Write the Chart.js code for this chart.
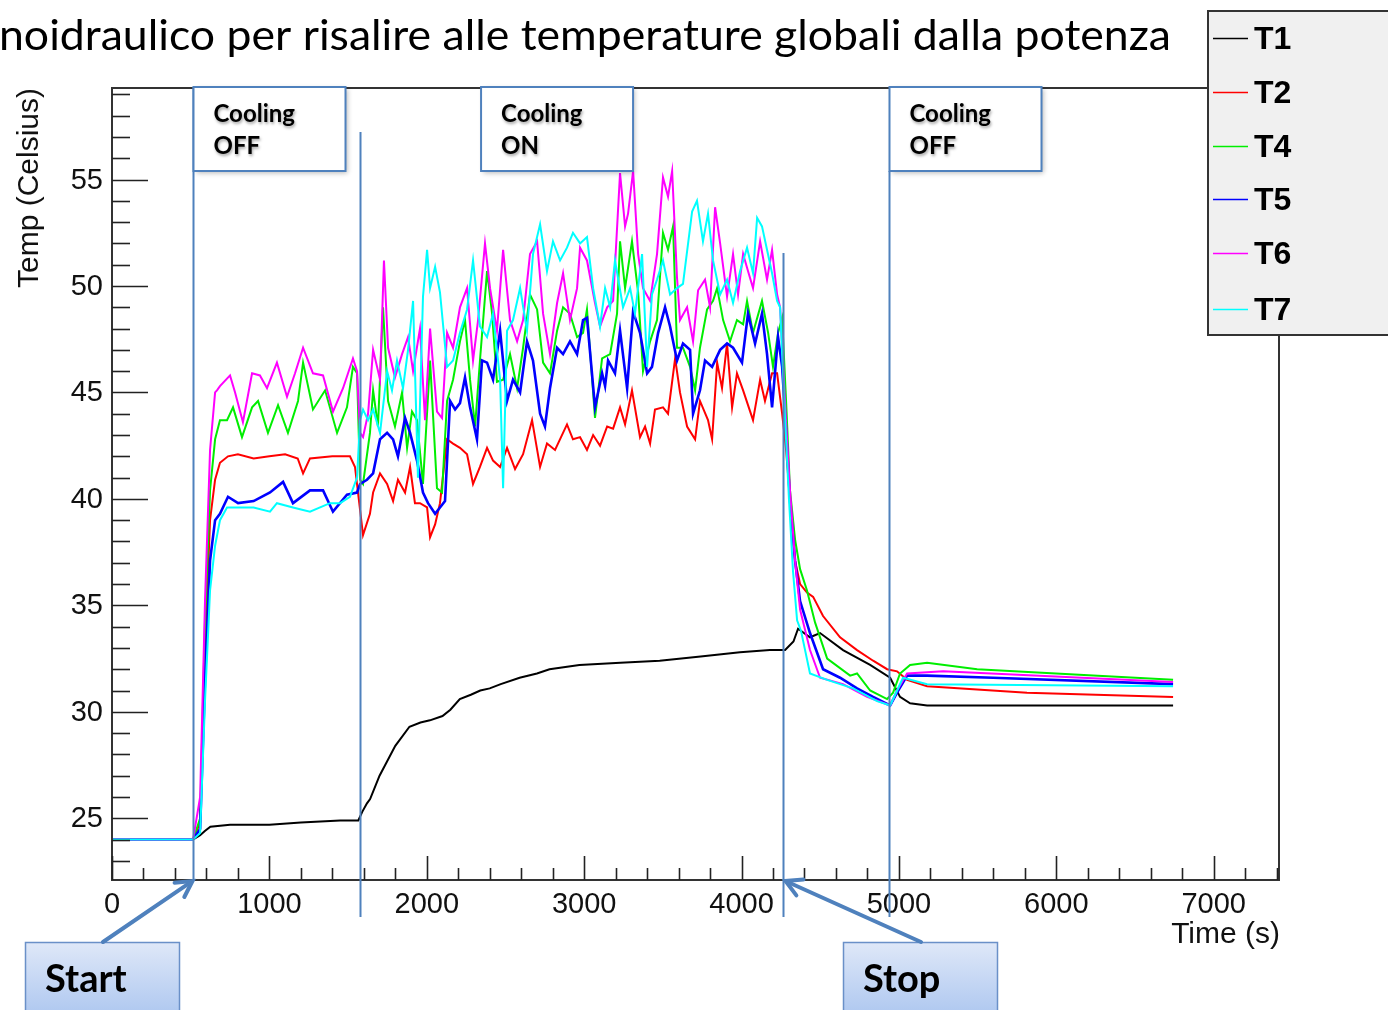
<!DOCTYPE html>
<html>
<head>
<meta charset="utf-8">
<script src="https://cdn.jsdelivr.net/npm/chart.js@4.4.1/dist/chart.umd.min.js"></script>
<style>
  html, body { margin: 0; padding: 0; background: #fff; }
  #wrap { width: 1388px; height: 1010px; position: relative; overflow: hidden; }
</style>
</head>
<body>
<div id="wrap"><canvas id="tempChart" width="1388" height="1010"></canvas></div>
<script>
// ─── Data (time in s, temperature in °C) ───
const xTicks = [0, 1000, 2000, 3000, 4000, 5000, 6000, 7000];
const yTicks = [25, 30, 35, 40, 45, 50, 55];
const seriesNames = ['T1', 'T2', 'T4', 'T5', 'T6', 'T7'];
const phaseTimes = [515, 1576, 4264, 4937];   // start, cooling on, stop, cooling off
const coolingLabels = [['Cooling', 'OFF'], ['Cooling', 'ON'], ['Cooling', 'OFF']];

const t1 = [[0,24.0],[515,24.0],[560,24.2],[590,24.4],[625,24.6],[750,24.7],[1000,24.7],[1200,24.8],[1450,24.9],[1565,24.9],
  [1590,25.3],[1620,25.7],[1640,25.9],[1700,27.0],[1800,28.4],[1890,29.3],[1960,29.5],[2020,29.6],[2100,29.8],[2150,30.1],
  [2210,30.6],[2280,30.8],[2340,31.0],[2400,31.1],[2470,31.3],[2590,31.6],[2700,31.8],[2780,32.0],[2970,32.2],[3230,32.3],
  [3480,32.4],[3740,32.6],[3990,32.8],[4180,32.9],[4277,32.9],[4330,33.3],[4359,33.9],[4435,33.5],[4499,33.7],[4645,32.9],
  [4817,32.2],[4944,31.6],[5007,30.7],[5071,30.4],[5179,30.3],[6742,30.3]];

const t2 = [[0,24.0],[515,24.0],[560,24.8],[591,32.9],[623,39.0],[655,40.9],[686,41.7],[737,42.0],[800,42.1],[900,41.9],
  [1000,42.0],[1100,42.1],[1180,41.9],[1214,41.2],[1258,41.9],[1400,42.0],[1512,42.0],[1544,41.5],[1576,39.5],[1595,38.3],
  [1639,39.3],[1659,40.3],[1703,41.2],[1748,40.7],[1786,39.9],[1817,40.9],[1862,40.3],[1894,41.5],[1925,39.8],[1957,39.8],
  [2002,39.6],[2021,38.2],[2053,38.8],[2084,39.8],[2129,42.8],[2167,42.6],[2211,42.4],[2256,42.1],[2294,40.7],[2338,41.5],
  [2383,42.4],[2421,41.8],[2466,41.5],[2510,42.4],[2561,41.4],[2612,42.1],[2669,43.7],[2720,41.5],[2764,42.6],[2815,42.3],
  [2891,43.5],[2929,42.8],[2974,42.9],[3018,42.3],[3057,43.0],[3101,42.5],[3146,43.4],[3184,43.3],[3228,44.3],[3260,43.5],
  [3304,45.1],[3355,42.9],[3387,43.4],[3419,42.6],[3450,44.2],[3501,44.3],[3533,44.0],[3578,46.6],[3609,45.0],[3654,43.4],
  [3705,42.8],[3736,44.6],[3787,43.7],[3813,42.8],[3845,46.4],[3876,45.2],[3908,47.3],[3940,44.3],[3971,45.9],[4010,45.1],
  [4073,43.7],[4118,45.6],[4149,44.6],[4194,45.9],[4226,45.9],[4258,44.0],[4283,42.3],[4308,40.0],[4340,37.1],[4372,36.0],
  [4416,35.6],[4455,35.4],[4518,34.5],[4626,33.5],[4734,32.9],[4836,32.4],[4925,32.0],[4988,31.9],[5052,31.5],[5179,31.2],
  [5814,30.9],[6742,30.7]];

const t4 = [[0,24.0],[515,24.0],[560,25.0],[591,34.3],[623,40.4],[655,42.8],[686,43.7],[731,43.7],[769,44.3],[826,42.9],
  [890,44.3],[928,44.6],[991,43.1],[1055,44.4],[1118,43.1],[1182,44.6],[1214,46.4],[1277,44.2],[1354,45.1],[1430,43.1],
  [1493,44.3],[1531,46.2],[1557,45.9],[1576,40.9],[1595,40.7],[1639,43.1],[1659,45.1],[1690,43.4],[1722,49.0],[1754,44.6],
  [1798,43.4],[1843,45.0],[1875,42.4],[1906,44.1],[1938,43.7],[1976,40.7],[2021,46.5],[2065,40.5],[2097,40.3],[2129,44.6],
  [2167,45.6],[2211,47.4],[2243,48.4],[2275,45.6],[2307,43.4],[2338,46.5],[2383,50.7],[2415,48.7],[2446,45.5],[2485,45.6],
  [2529,46.8],[2574,45.2],[2612,47.1],[2656,49.6],[2701,48.9],[2739,46.4],[2783,45.9],[2828,47.9],[2866,49.0],[2910,48.7],
  [2955,47.6],[2993,47.8],[3018,48.9],[3069,43.8],[3114,46.6],[3165,46.8],[3209,48.7],[3228,52.1],[3260,49.9],[3304,52.1],
  [3343,49.7],[3374,46.0],[3419,47.4],[3463,48.4],[3501,52.5],[3533,51.7],[3565,52.8],[3590,47.1],[3628,47.1],[3673,46.2],
  [3705,45.1],[3736,47.1],[3781,48.9],[3819,49.3],[3845,49.9],[3883,48.4],[3927,47.4],[3971,48.4],[4010,48.2],[4035,49.3],
  [4073,47.8],[4130,49.3],[4169,47.8],[4200,46.2],[4232,47.8],[4258,48.5],[4283,44.6],[4308,40.4],[4340,38.1],[4372,36.7],
  [4416,35.7],[4467,34.2],[4544,32.5],[4690,31.7],[4734,31.8],[4817,31.0],[4925,30.6],[4963,30.9],[5007,31.8],[5071,32.2],
  [5179,32.3],[5497,32.0],[6234,31.7],[6742,31.5]];

const t5 = [[0,24.0],[515,24.0],[560,24.5],[591,31.5],[623,37.1],[655,39.0],[686,39.3],[737,40.1],[801,39.8],[900,39.9],
  [1004,40.3],[1087,40.8],[1150,39.8],[1258,40.4],[1341,40.4],[1404,39.4],[1493,40.2],[1557,40.3],[1576,40.7],[1620,40.9],
  [1659,41.2],[1703,42.8],[1748,43.1],[1786,42.8],[1817,42.0],[1862,43.8],[1894,43.1],[1938,41.8],[1976,40.3],[2008,39.8],
  [2053,39.3],[2084,39.6],[2116,39.9],[2148,44.6],[2180,44.2],[2211,44.5],[2243,45.7],[2275,44.3],[2319,42.8],[2351,46.5],
  [2383,46.4],[2421,45.6],[2466,47.9],[2510,44.6],[2548,45.6],[2593,45.0],[2637,47.4],[2675,46.5],[2720,44.0],[2751,43.4],
  [2783,45.2],[2828,47.1],[2866,46.8],[2910,47.4],[2955,46.8],[2993,48.4],[3018,48.5],[3069,44.3],[3114,45.9],[3133,45.3],
  [3152,46.5],[3196,45.9],[3228,47.9],[3273,45.2],[3311,48.8],[3355,47.8],[3400,45.9],[3431,46.2],[3470,47.8],[3514,49.0],
  [3546,48.1],[3590,46.5],[3628,47.3],[3673,47.0],[3692,44.0],[3736,45.1],[3768,46.5],[3813,46.2],[3864,47.0],[3908,47.3],
  [3946,47.1],[4003,46.4],[4041,48.7],[4086,47.3],[4130,48.7],[4162,46.8],[4194,44.3],[4232,47.6],[4258,46.2],[4283,43.2],
  [4308,39.9],[4340,37.1],[4372,35.2],[4435,33.7],[4518,32.0],[4626,31.6],[4734,31.1],[4836,30.7],[4944,30.3],[4988,30.9],
  [5052,31.7],[5179,31.7],[5598,31.6],[6742,31.3]];

const t6 = [[0,24.0],[515,24.0],[560,26.0],[591,35.2],[623,42.3],[655,45.0],[667,45.1],[686,45.3],[750,45.8],[782,45.0],
  [832,43.6],[890,45.9],[940,45.8],[985,45.2],[1048,46.4],[1112,44.8],[1163,45.9],[1214,47.1],[1277,45.9],[1341,45.8],
  [1404,44.1],[1468,45.2],[1531,46.6],[1557,46.0],[1576,43.1],[1595,42.9],[1627,44.0],[1659,47.0],[1703,45.6],[1728,51.2],
  [1754,47.1],[1798,45.7],[1843,46.8],[1881,47.6],[1913,46.0],[1957,48.0],[1989,43.7],[2021,48.0],[2065,44.1],[2097,43.8],
  [2129,47.8],[2167,47.1],[2211,49.0],[2256,49.9],[2294,46.5],[2326,48.4],[2370,52.0],[2402,49.9],[2446,47.9],[2485,51.7],
  [2529,48.4],[2574,47.4],[2612,48.4],[2656,51.5],[2701,52.1],[2739,48.7],[2783,46.8],[2828,49.2],[2866,50.6],[2910,48.4],
  [2955,49.9],[2974,51.8],[3018,51.2],[3069,49.2],[3101,48.1],[3146,49.0],[3184,49.3],[3228,55.3],[3260,52.8],[3279,53.4],
  [3311,55.4],[3343,51.5],[3374,49.9],[3419,49.3],[3463,51.5],[3501,55.1],[3533,54.2],[3559,55.4],[3590,50.4],[3609,48.4],
  [3654,49.0],[3692,47.4],[3724,49.8],[3768,50.3],[3800,49.0],[3832,53.7],[3864,52.0],[3908,49.5],[3946,51.5],[3978,49.6],
  [4010,51.5],[4041,50.7],[4073,49.9],[4118,52.1],[4162,50.3],[4194,51.7],[4226,49.6],[4245,49.0],[4283,43.6],[4308,40.4],
  [4340,37.1],[4372,34.8],[4435,32.9],[4499,31.6],[4645,31.3],[4798,30.7],[4944,30.3],[4988,31.0],[5052,31.8],[5281,31.9],
  [6742,31.4]];

const t7 = [[0,24.0],[515,24.0],[560,24.3],[591,30.5],[623,35.7],[655,37.8],[686,39.0],[731,39.6],[800,39.6],[900,39.6],
  [1004,39.4],[1048,39.8],[1150,39.6],[1258,39.4],[1385,39.8],[1449,39.8],[1512,40.1],[1557,41.0],[1576,43.7],[1595,44.2],
  [1627,43.7],[1659,44.2],[1703,43.1],[1748,46.0],[1779,45.1],[1811,46.5],[1849,45.2],[1881,47.0],[1913,49.3],[1944,41.0],
  [1976,49.5],[2002,51.7],[2021,49.9],[2053,50.9],[2084,49.7],[2129,46.2],[2167,46.5],[2211,47.8],[2256,48.9],[2294,51.2],
  [2338,48.1],[2383,47.6],[2421,48.7],[2466,45.6],[2485,40.5],[2510,47.9],[2548,48.4],[2593,49.9],[2637,47.9],[2675,51.5],
  [2720,52.9],[2764,50.7],[2802,52.1],[2847,51.2],[2891,51.8],[2929,52.5],[2974,52.0],[3018,52.3],[3057,49.9],[3101,48.1],
  [3133,49.9],[3165,49.0],[3196,51.2],[3247,49.0],[3292,49.9],[3323,48.7],[3368,51.5],[3400,46.2],[3431,49.6],[3463,50.3],
  [3501,51.2],[3546,49.6],[3590,49.9],[3628,50.1],[3686,53.5],[3717,54.0],[3755,52.1],[3787,53.4],[3819,51.2],[3864,49.6],
  [3908,50.3],[3946,49.2],[3991,50.7],[4035,51.8],[4073,50.6],[4099,53.2],[4130,52.8],[4162,51.7],[4194,50.6],[4226,49.3],
  [4245,49.0],[4277,43.7],[4302,39.9],[4327,36.6],[4353,34.3],[4378,33.8],[4435,31.8],[4544,31.5],[4709,31.1],[4861,30.5],
  [4944,30.3],[5026,31.6],[5179,31.3],[6742,31.2]];

const seriesData = [t1, t2, t4, t5, t6, t7];

// ─── Styles ───
const seriesColors = ['#000000', '#ff0000', '#00ee00', '#0000ff', '#ff00ff', '#00ffff'];
const seriesWidths = [2, 2, 2, 2.6, 2, 2];
const annBlue = '#4f81bd';
const axisFont = '29px "Liberation Sans", Arial, sans-serif';
const slideFont = 'Lato, "Open Sans", sans-serif';

// ─── Helpers ───
function arrow(ctx, x0, y0, x1, y1) {
  const ang = Math.atan2(y1 - y0, x1 - x0);
  ctx.beginPath();
  ctx.moveTo(x0, y0);
  ctx.lineTo(x1 - 3 * Math.cos(ang), y1 - 3 * Math.sin(ang));
  ctx.stroke();
  ctx.beginPath();
  ctx.moveTo(x1 - 18 * Math.cos(ang - 0.5), y1 - 18 * Math.sin(ang - 0.5));
  ctx.lineTo(x1, y1);
  ctx.lineTo(x1 - 18 * Math.cos(ang + 0.5), y1 - 18 * Math.sin(ang + 0.5));
  ctx.stroke();
}

function gradBox(ctx, x, y, w, h, label) {
  const g = ctx.createLinearGradient(0, y, 0, y + h);
  g.addColorStop(0, '#dfe8f8');
  g.addColorStop(1, '#a3c0ee');
  ctx.fillStyle = g;
  ctx.fillRect(x, y, w, h);
  ctx.strokeStyle = '#6a90c8';
  ctx.lineWidth = 1.5;
  ctx.strokeRect(x + 0.5, y + 0.5, w, h);
  ctx.fillStyle = '#000';
  ctx.font = `bold 38px ${slideFont}`;
  ctx.textAlign = 'left';
  ctx.textBaseline = 'alphabetic';
  ctx.fillText(label, x + 20, y + 50);
}

// ─── Axes, annotations and legend drawn over the data ───
const decor = {
  id: 'decor',
  afterDatasetsDraw(chart) {
    const { ctx, chartArea: a, scales: { x, y } } = chart;
    ctx.save();

    // frame
    ctx.strokeStyle = '#333';
    ctx.lineWidth = 2;
    ctx.strokeRect(a.left, a.top, a.right - a.left, a.bottom - a.top);

    // x ticks (inside, ROOT style)
    ctx.lineWidth = 1.6;
    ctx.strokeStyle = '#222';
    for (let v = 0; v <= x.max; v += 200) {
      const px = Math.round(x.getPixelForValue(v)) + 0.5;
      const len = v % 1000 === 0 ? 24 : 12;
      ctx.beginPath(); ctx.moveTo(px, a.bottom); ctx.lineTo(px, a.bottom - len); ctx.stroke();
    }
    for (let v = Math.ceil(y.min); v <= y.max; v += 1) {
      const py = Math.round(y.getPixelForValue(v)) + 0.5;
      const len = v % 5 === 0 ? 36 : 18;
      ctx.beginPath(); ctx.moveTo(a.left, py); ctx.lineTo(a.left + len, py); ctx.stroke();
    }

    // tick labels
    ctx.fillStyle = '#111';
    ctx.font = axisFont;
    ctx.textAlign = 'center';
    ctx.textBaseline = 'alphabetic';
    xTicks.forEach(v => ctx.fillText(String(v), x.getPixelForValue(v), a.bottom + 33));
    ctx.textAlign = 'right';
    ctx.textBaseline = 'middle';
    yTicks.forEach(v => ctx.fillText(String(v), a.left - 9, y.getPixelForValue(v) + 1));

    // axis titles
    ctx.font = '30px "Liberation Sans", Arial, sans-serif';
    ctx.textAlign = 'right';
    ctx.textBaseline = 'alphabetic';
    ctx.fillText('Time (s)', a.right + 1, a.bottom + 63);
    ctx.save();
    ctx.translate(38, a.top);
    ctx.rotate(-Math.PI / 2);
    ctx.textAlign = 'right';
    ctx.fillText('Temp (Celsius)', 0, 0);
    ctx.restore();

    // phase lines
    const px = phaseTimes.map(t => Math.round(x.getPixelForValue(t)) + 0.5);
    const lineSpans = [[a.top - 1, a.bottom], [132, 917], [253, 917], [171, 917]];
    ctx.strokeStyle = annBlue;
    ctx.lineWidth = 2;
    px.forEach((p, i) => {
      ctx.beginPath(); ctx.moveTo(p, lineSpans[i][0]); ctx.lineTo(p, lineSpans[i][1]); ctx.stroke();
    });

    // cooling boxes
    const boxLeft = [px[0], x.getPixelForValue(2345), px[3]];
    boxLeft.forEach((bx, i) => {
      ctx.save();
      ctx.shadowColor = 'rgba(0,0,0,0.28)';
      ctx.shadowBlur = 5;
      ctx.shadowOffsetX = 2;
      ctx.shadowOffsetY = 2;
      ctx.fillStyle = '#fff';
      ctx.fillRect(bx, a.top - 1, 152, 84);
      ctx.restore();
      ctx.strokeStyle = annBlue;
      ctx.lineWidth = 2;
      ctx.strokeRect(bx, a.top - 1, 152, 84);
      ctx.save();
      ctx.shadowColor = 'rgba(0,0,0,0.35)';
      ctx.shadowBlur = 3;
      ctx.shadowOffsetX = 1;
      ctx.shadowOffsetY = 2;
      ctx.fillStyle = '#000';
      ctx.font = `bold 24px ${slideFont}`;
      ctx.textAlign = 'left';
      ctx.textBaseline = 'alphabetic';
      ctx.fillText(coolingLabels[i][0], bx + 20, 122);
      ctx.fillText(coolingLabels[i][1], bx + 20, 154);
      ctx.restore();
    });

    // start / stop call-outs
    gradBox(ctx, 25, 942, 154, 90, 'Start');
    gradBox(ctx, 843, 942, 154, 90, 'Stop');
    ctx.strokeStyle = annBlue;
    ctx.lineWidth = 4;
    ctx.lineCap = 'round';
    arrow(ctx, 103, 942, px[0] - 1, a.bottom + 1);
    arrow(ctx, 921, 942, px[2] + 2, a.bottom + 1);
    ctx.lineCap = 'butt';

    // legend
    ctx.fillStyle = '#f0f0f0';
    ctx.fillRect(1208, 11, 190, 324);
    ctx.strokeStyle = '#333';
    ctx.lineWidth = 2;
    ctx.strokeRect(1208, 11, 190, 324);
    const legY = [38, 92, 146, 199, 253, 309];
    ctx.font = 'bold 32px "Liberation Sans", Arial, sans-serif';
    ctx.textAlign = 'left';
    ctx.textBaseline = 'middle';
    seriesNames.forEach((n, i) => {
      ctx.strokeStyle = seriesColors[i];
      ctx.lineWidth = 1.5;
      ctx.beginPath(); ctx.moveTo(1213, legY[i] + 0.5); ctx.lineTo(1248, legY[i] + 0.5); ctx.stroke();
      ctx.fillStyle = '#000';
      ctx.fillText(n, 1254, legY[i] + 2);
    });

    // slide text above the plot
    const title = 'noidraulico per risalire alle temperature globali dalla potenza';
    ctx.font = `42px ${slideFont}`;
    ctx.textAlign = 'left';
    ctx.textBaseline = 'alphabetic';
    const w = ctx.measureText(title).width;
    ctx.save();
    ctx.translate(-1, 50);
    ctx.scale(1172 / w, 1);
    ctx.fillStyle = '#000';
    ctx.fillText(title, 0, 0);
    ctx.restore();

    ctx.restore();
  }
};

// ─── Chart ───
new Chart(document.getElementById('tempChart'), {
  type: 'line',
  data: {
    datasets: seriesNames.map((name, i) => ({
      label: name,
      data: seriesData[i].map(p => ({ x: p[0], y: p[1] })),
      borderColor: seriesColors[i],
      borderWidth: seriesWidths[i],
      pointRadius: 0,
      tension: 0,
      fill: false,
      order: seriesNames.length - i
    }))
  },
  options: {
    responsive: false,
    animation: false,
    devicePixelRatio: 1,
    layout: { padding: { left: 112, top: 88, right: 109, bottom: 130 } },
    plugins: { legend: { display: false }, tooltip: { enabled: false } },
    scales: {
      x: { type: 'linear', min: 0, max: 7415, display: false },
      y: { type: 'linear', min: 22.1, max: 59.3, display: false }
    }
  },
  plugins: [decor]
});
</script>
</body>
</html>
